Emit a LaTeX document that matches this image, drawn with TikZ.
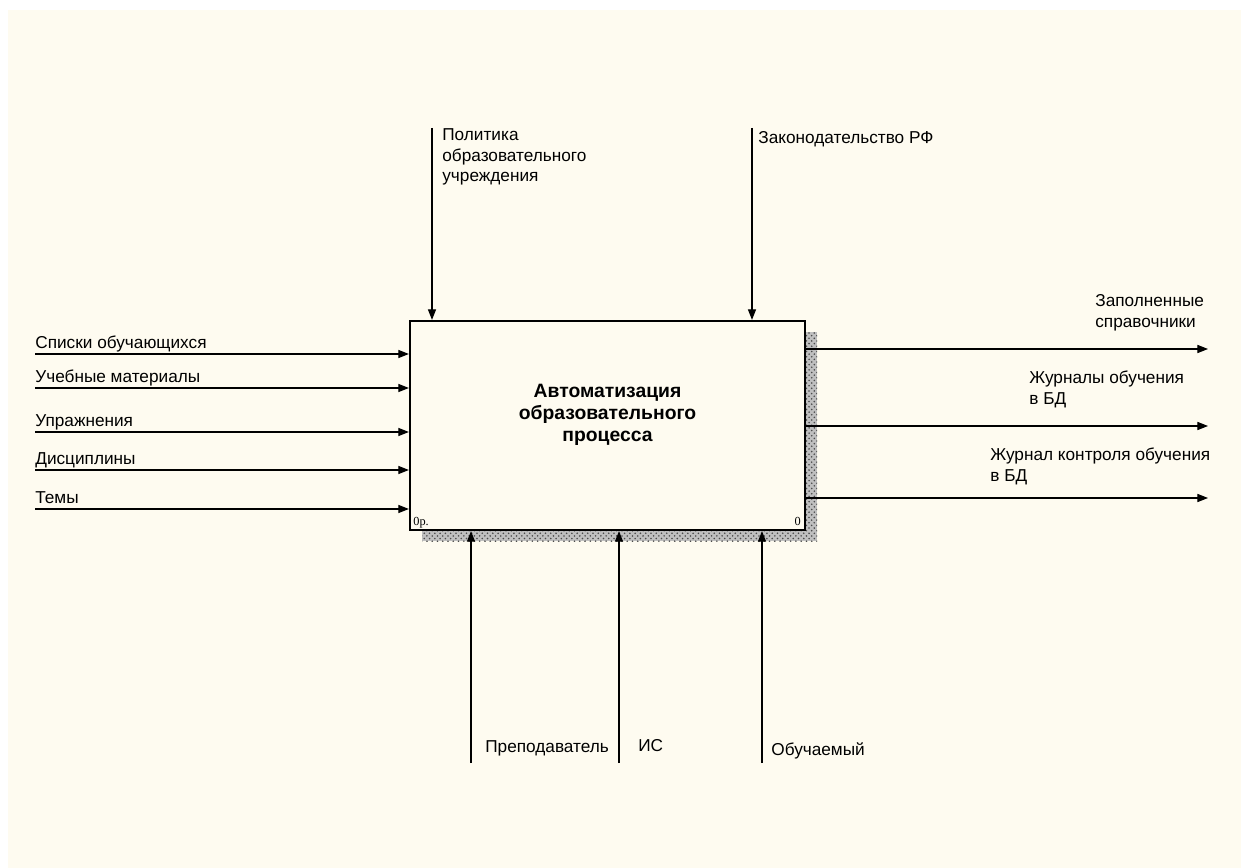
\documentclass[tikz,border=0pt]{standalone}
\usepackage{fontspec}
\setmainfont{Liberation Sans}
\newfontfamily\tagfont{Liberation Serif}
\usetikzlibrary{arrows.meta,patterns,calc}

\definecolor{paper}{HTML}{FEFBF0}

\begin{document}
\begin{tikzpicture}[
    x=0.02cm,
    y=-0.02cm,
    font=\fontsize{9.8}{11.9}\selectfont,
    func/.style={
        draw,
        line width=1.3pt,
        fill=paper,
        minimum width=7.9cm,
        minimum height=4.18cm,
        inner sep=0pt
    },
    title/.style={
        align=center,
        font=\fontsize{11}{12.5}\selectfont\bfseries
    },
    flow/.style={
        draw,
        line width=0.6pt,
        -{Triangle[length=6pt,width=4.6pt]}
    },
    lbl/.style={
        inner sep=0pt,
        align=left
    },
    tag/.style={
        inner sep=0pt,
        font=\tagfont\fontsize{7}{8}\selectfont
    }
]
    % page
    \useasboundingbox (0,0) rectangle (1241,868);
    \fill[white] (0,0) rectangle (1241,868);
    \fill[paper] (8,10) rectangle (1241,868);

    % shadow of the function box
    \fill[black!25] (422,332) rectangle (817,541);
    \path[pattern=crosshatch dots,pattern color=black!70] (422,332) rectangle (817,541);

    % function box
    \node[func] (fn) at (607.5,425.5) {};
    \node[title] (fntext) at (607.5,415) {Автоматизация\\образовательного\\процесса};
    \node[tag,anchor=base west] (fnnode) at (413,525) {0р.};
    \node[tag,anchor=base east] (fnnum) at (801,525) {0};

    % inputs
    \foreach \y/\t [count=\i] in {354/Списки обучающихся,388/Учебные материалы,432/Упражнения,470/Дисциплины,509/Темы}{
        \coordinate (in\i) at (35,\y);
        \draw[flow] (in\i) -- (in\i -| fn.west);
        \node[lbl,anchor=base west] (lin\i) at ($(in\i)+(0,-6)$) {\t};
    }

    % outputs (multi-line labels sit on their last baseline)
    \coordinate (out1) at (1208,349);
    \coordinate (out2) at (1208,426);
    \coordinate (out3) at (1208,498);
    \foreach \i in {1,2,3}
        \draw[flow] (out\i -| fn.east) -- (out\i);
    \node[lbl,anchor=base west] (lout1) at (1095,327) {Заполненные\\справочники};
    \node[lbl,anchor=base west] (lout2) at (1029,404) {Журналы обучения\\ в БД};
    \node[lbl,anchor=base west] (lout3) at (990,481) {Журнал контроля обучения\\ в БД};

    % controls
    \coordinate (ctl1) at (432,128);
    \coordinate (ctl2) at (752,128);
    \foreach \i in {1,2}
        \draw[flow] (ctl\i) -- (ctl\i |- fn.north);
    \node[lbl,anchor=base west] (lctl1) at (442,182) {Политика\\образовательного\\учреждения};
    \node[lbl,anchor=base west] (lctl2) at (758,144) {Законодательство РФ};

    % mechanisms
    \coordinate (mech1) at (471,763);
    \coordinate (mech2) at (619,763);
    \coordinate (mech3) at (762,763);
    \foreach \i in {1,2,3}
        \draw[flow] (mech\i) -- (mech\i |- fn.south);
    \node[lbl,anchor=base west] (lmech1) at (485,752) {Преподаватель};
    \node[lbl,anchor=base west] (lmech2) at (638,751) {ИС};
    \node[lbl,anchor=base west] (lmech3) at (771,755) {Обучаемый};
\end{tikzpicture}
\end{document}
